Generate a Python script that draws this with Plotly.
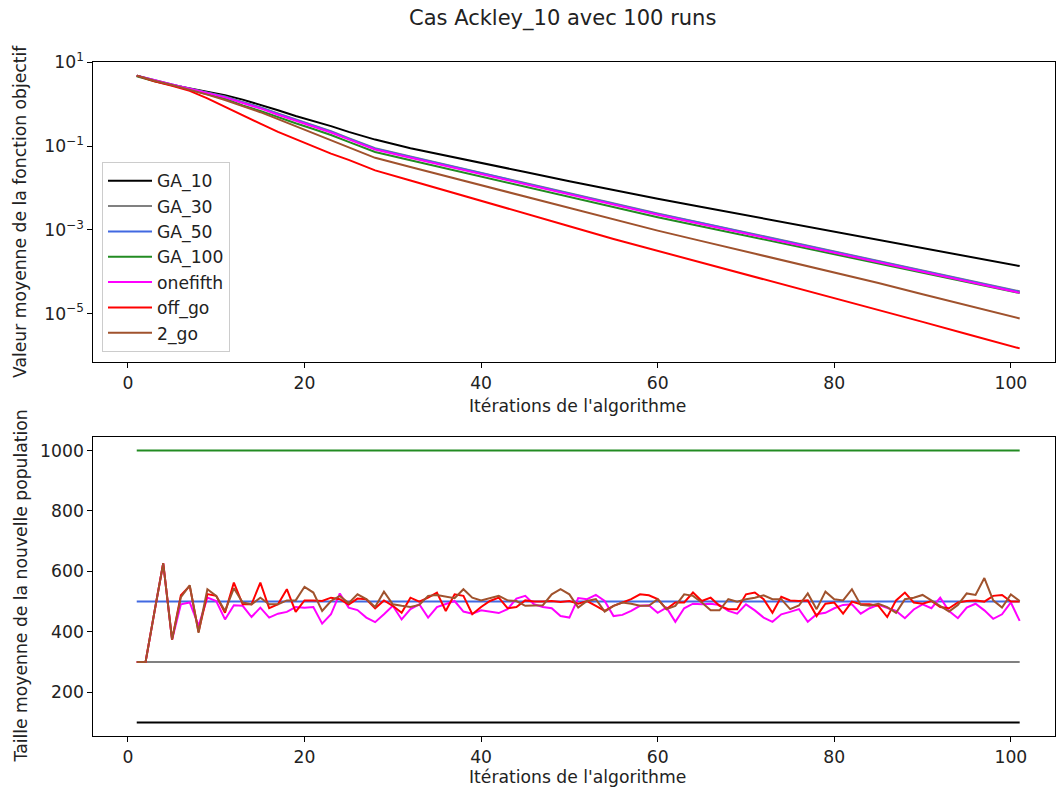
import plotly.graph_objects as go

# ---------------- data ----------------
series_names = ["GA_10", "GA_30", "GA_50", "GA_100", "onefifth", "off_go", "2_go"]

# top panel: mean objective value
x_top = [1, 3, 5, 7, 9, 11, 13, 15, 17, 19, 21, 23, 25, 28, 32, 36, 40, 45, 50,
         55, 60, 65, 70, 75, 80, 85, 90, 95, 101]
obj_ga10 = [4.82, 3.63, 2.88, 2.40, 2.00, 1.64, 1.29, 0.98, 0.72, 0.525, 0.398, 0.300,
            0.219, 0.143, 0.0891, 0.0589, 0.0398, 0.0240, 0.0145, 0.00879, 0.00552,
            0.00350, 0.00222, 0.00141, 8.9e-4, 5.7e-4, 3.64e-4, 2.33e-4, 1.36e-4]
obj_ga30 = [4.82, 3.68, 2.92, 2.36, 1.93, 1.53, 1.14, 0.851, 0.603, 0.432, 0.316, 0.226,
            0.155, 0.0891, 0.0562, 0.0359, 0.0229, 0.0129, 0.00724, 0.00417, 0.00245,
            0.00146, 8.71e-4, 5.13e-4, 3.05e-4, 1.80e-4, 1.07e-4, 6.31e-5, 3.39e-5]
obj_ga50 = [4.82, 3.72, 2.95, 2.34, 1.88, 1.49, 1.11, 0.832, 0.589, 0.422, 0.309, 0.221,
            0.151, 0.0871, 0.0550, 0.0351, 0.0224, 0.0126, 0.00708, 0.00407, 0.00240,
            0.00143, 8.51e-4, 5.01e-4, 2.98e-4, 1.76e-4, 1.05e-4, 6.17e-5, 3.29e-5]
obj_ga100 = [4.68, 3.55, 2.82, 2.24, 1.74, 1.35, 0.933, 0.692, 0.490, 0.351, 0.257, 0.184,
             0.126, 0.0724, 0.0457, 0.0292, 0.0186, 0.0105, 0.00589, 0.00339, 0.00200,
             0.00120, 7.24e-4, 4.27e-4, 2.57e-4, 1.55e-4, 9.33e-5, 5.62e-5, 3.09e-5]
obj_onefifth = [4.82, 3.72, 2.95, 2.34, 1.86, 1.46, 1.07, 0.794, 0.562, 0.403, 0.295, 0.211,
                0.145, 0.0832, 0.0525, 0.0335, 0.0214, 0.0120, 0.00676, 0.00389, 0.00229,
                0.00136, 8.13e-4, 4.79e-4, 2.84e-4, 1.68e-4, 1.0e-4, 5.89e-5, 3.14e-5]
obj_off_go = [4.82, 3.55, 2.75, 2.09, 1.38, 0.861, 0.537, 0.343, 0.219, 0.145, 0.0955,
              0.0661, 0.0468, 0.0263, 0.0151, 0.00871, 0.00501, 0.00245, 0.00122, 6.03e-4,
              3.16e-4, 1.64e-4, 8.61e-5, 4.52e-5, 2.35e-5, 1.22e-5, 6.31e-6, 3.24e-6, 1.47e-6]
obj_2_go = [4.82, 3.63, 2.88, 2.24, 1.70, 1.26, 0.912, 0.646, 0.442, 0.302, 0.204, 0.138,
            0.0933, 0.0525, 0.0316, 0.0191, 0.0115, 0.00610, 0.00324, 0.00172, 9.55e-4,
            5.37e-4, 3.02e-4, 1.74e-4, 9.93e-5, 5.37e-5, 2.88e-5, 1.55e-5, 7.64e-6]

top_tickvals = [10, 0.1, 0.001, 0.00001]
top_ticktext = ["10<sup>1</sup>", "10<sup>−1</sup>", "10<sup>−3</sup>", "10<sup>−5</sup>"]

# bottom panel: mean size of the new population
iterations = list(range(1, 102))
pop_ga10 = [100] * 101
pop_ga30 = [300] * 101
pop_ga50 = [500] * 101
pop_ga100 = [1000] * 101
pop_onefifth = [300, 300, 465, 627, 374, 491, 497, 420, 513, 502,
                441, 488, 486, 449, 480, 447, 460, 466, 482, 480,
                482, 427, 458, 527, 480, 472, 447, 432, 458, 486,
                441, 475, 491, 447, 482, 491, 502, 467, 460, 471,
                467, 462, 475, 510, 519, 491, 482, 478, 452, 447,
                512, 508, 522, 502, 452, 456, 469, 486, 488, 463,
                480, 433, 478, 493, 491, 493, 489, 469, 460, 491,
                471, 447, 433, 458, 466, 475, 433, 458, 463, 478,
                489, 491, 460, 478, 489, 478, 469, 445, 474, 491,
                478, 513, 469, 445, 480, 493, 471, 443, 458, 497, 436]
pop_off_go = [300, 300, 465, 627, 374, 521, 552, 400, 525, 519,
              463, 563, 491, 491, 563, 478, 491, 541, 466, 504,
              504, 502, 513, 508, 490, 510, 508, 478, 504, 486,
              463, 513, 500, 513, 530, 469, 524, 519, 458, 482,
              502, 513, 478, 482, 504, 500, 500, 502, 499, 502,
              493, 502, 486, 469, 486, 497, 508, 524, 521, 508,
              475, 497, 497, 530, 502, 513, 486, 475, 475, 524,
              530, 508, 463, 516, 504, 502, 504, 452, 493, 497,
              460, 500, 491, 491, 486, 449, 504, 530, 497, 493,
              502, 482, 478, 497, 502, 504, 500, 519, 522, 500, 500]
pop_2_go = [300, 300, 465, 627, 374, 515, 554, 397, 541, 519,
            469, 544, 497, 491, 513, 491, 491, 504, 504, 549,
            530, 469, 502, 519, 495, 524, 508, 482, 533, 491,
            486, 482, 489, 519, 522, 517, 511, 541, 513, 504,
            511, 519, 504, 502, 486, 486, 488, 524, 541, 524,
            480, 502, 508, 467, 486, 497, 493, 486, 486, 508,
            475, 486, 524, 519, 497, 471, 471, 508, 500, 508,
            513, 521, 508, 508, 475, 487, 527, 475, 533, 508,
            504, 541, 489, 486, 493, 482, 463, 508, 513, 522,
            504, 486, 467, 489, 527, 522, 578, 504, 480, 524, 502]

colors = ["black", "gray", "royalblue", "forestgreen", "magenta", "red", "sienna"]
top_series = [obj_ga10, obj_ga30, obj_ga50, obj_ga100, obj_onefifth, obj_off_go, obj_2_go]
bottom_series = [pop_ga10, pop_ga30, pop_ga50, pop_ga100, pop_onefifth, pop_off_go, pop_2_go]

# ---------------- figure ----------------
W, H = 1056, 794
FONT = "DejaVu Sans"
FS = 17.2
TXT = "#222222"

fig = go.Figure()
for name, col, ys in zip(series_names, colors, top_series):
    fig.add_trace(go.Scatter(x=x_top, y=ys, mode="lines", name=name,
                             line=dict(color=col, width=2),
                             xaxis="x", yaxis="y"))
for name, col, ys in zip(series_names, colors, bottom_series):
    fig.add_trace(go.Scatter(x=iterations, y=ys, mode="lines", name=name,
                             line=dict(color=col, width=2), showlegend=False,
                             xaxis="x2", yaxis="y2"))

x_dom = [93.3 / W, 1055 / W]
top_dom = [1 - 362 / H, 1 - 62 / H]
bot_dom = [1 - 736 / H, 1 - 437 / H]

axis_common = dict(showline=True, linecolor="black", linewidth=1, mirror=True,
                   ticks="outside", ticklen=5, tickwidth=1, tickcolor="black",
                   showgrid=False, zeroline=False, automargin=False,
                   tickfont=dict(family=FONT, size=FS, color=TXT))

fig.update_layout(
    width=W, height=H,
    margin=dict(l=0, r=0, t=0, b=0, autoexpand=False),
    paper_bgcolor="white", plot_bgcolor="white",
    font=dict(family=FONT, size=FS, color=TXT),
    xaxis=dict(domain=x_dom, anchor="y", range=[-3.92, 105.0],
               tick0=0, dtick=20, **axis_common),
    yaxis=dict(domain=top_dom, anchor="x", type="log", range=[-6.158, 1.009],
               tickmode="array", tickvals=top_tickvals, ticktext=top_ticktext,
               **axis_common),
    xaxis2=dict(domain=x_dom, anchor="y2", range=[-3.92, 105.0],
                tick0=0, dtick=20, **axis_common),
    yaxis2=dict(domain=bot_dom, anchor="x2", range=[55, 1045],
                tick0=0, dtick=200, **axis_common),
    legend=dict(x=102 / W, y=1 - 162 / H, xanchor="left", yanchor="top",
                bgcolor="rgba(255,255,255,0.8)", bordercolor="#cccccc", borderwidth=1,
                font=dict(family=FONT, size=FS, color=TXT),
                itemwidth=44, tracegroupgap=0),
    showlegend=True,
)

annotations = [
    dict(text="Cas Ackley_10 avec 100 runs", x=562 / W, y=1 - 19 / H, xref="paper", yref="paper",
         showarrow=False, font=dict(family=FONT, size=21, color=TXT),
         xanchor="center", yanchor="middle"),
    dict(text="Itérations de l'algorithme", x=577 / W, y=1 - 406 / H, xref="paper",
         yref="paper", showarrow=False, font=dict(family=FONT, size=FS, color=TXT),
         xanchor="center", yanchor="middle"),
    dict(text="Itérations de l'algorithme", x=577 / W, y=1 - 777 / H, xref="paper",
         yref="paper", showarrow=False, font=dict(family=FONT, size=FS, color=TXT),
         xanchor="center", yanchor="middle"),
    dict(text="Valeur moyenne de la fonction objectif", x=20 / W, y=1 - 212 / H,
         xref="paper", yref="paper", showarrow=False, textangle=-90,
         font=dict(family=FONT, size=FS, color=TXT), xanchor="center", yanchor="middle"),
    dict(text="Taille moyenne de la nouvelle population", x=20 / W, y=1 - 586.5 / H,
         xref="paper", yref="paper", showarrow=False, textangle=-90,
         font=dict(family=FONT, size=FS, color=TXT), xanchor="center", yanchor="middle"),
]
fig.update_layout(annotations=annotations)

fig.write_html("out.html")
